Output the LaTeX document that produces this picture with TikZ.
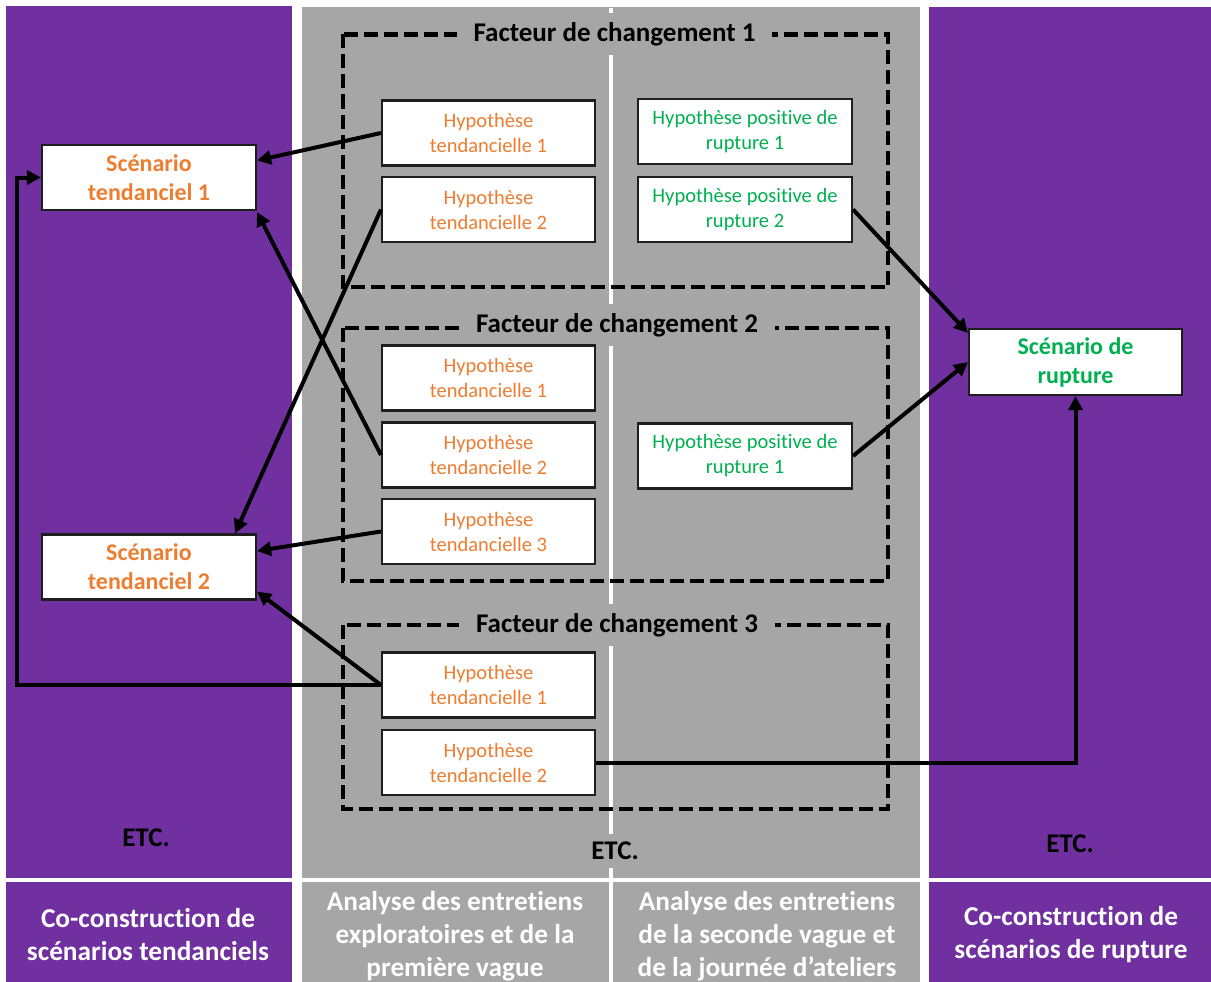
\documentclass[tikz,border=0pt]{standalone}
\usepackage{fontspec}
\setmainfont[Ligatures={NoCommon}]{Carlito}
\usetikzlibrary{arrows.meta,calc}
\definecolor{ppurple}{HTML}{7030A0}
\definecolor{pgray}{HTML}{A6A6A6}
\definecolor{porange}{HTML}{ED7D31}
\definecolor{pgreen}{HTML}{00B050}
\definecolor{pborder}{HTML}{1E1E1E}
\begin{document}
\begin{tikzpicture}[x=1pt,y=-1pt,
  hypbox/.style={draw=pborder, line width=2.1pt, fill=white, minimum width=213pt, minimum height=65pt, inner sep=0pt, align=center, font=\fontsize{20.5}{25}\selectfont},
  orangebox/.style={hypbox, text=porange},
  greenbox/.style={hypbox, text=pgreen},
  scenbox/.style={draw=pborder, line width=2.1pt, fill=white, minimum width=214pt, minimum height=65pt, inner sep=0pt, align=center, font=\fontsize{24}{29}\selectfont\bfseries},
  facttitle/.style={fill=pgray, inner xsep=17pt, inner ysep=9pt, font=\fontsize{27}{32}\selectfont\bfseries, text=black},
  etclabel/.style={font=\fontsize{27}{32}\selectfont\bfseries, text=black},
  bandlabel/.style={align=center, text=white, font=\fontsize{27.3}{33}\selectfont\bfseries},
  dashbox/.style={draw=black, line width=4.5pt, dash pattern=on 14pt off 6pt},
  conn/.style={draw=black, line width=4pt, -{Triangle[length=14pt,width=14pt]}}
]
\fill[white] (0,0) rectangle (1211,982);
\useasboundingbox (0,0) rectangle (1211,982);
% columns
\fill[ppurple] (6,6) rectangle (292,878);
\fill[pgray] (302,7) rectangle (920,878);
\fill[ppurple] (929,7) rectangle (1211,878);
\fill[ppurple] (6,882) rectangle (292,982);
\fill[pgray] (302,882) rectangle (920,982);
\fill[ppurple] (929,882) rectangle (1211,982);
\draw[white, line width=4pt] (611,8) -- (611,982);
% dashed groups
\draw[dashbox] (343,34.5) rectangle (888,287);
\draw[dashbox] (343,328) rectangle (888,581);
\draw[dashbox] (343,625) rectangle (888,809);
\node[facttitle] (f1) at (614.5,34) {Facteur de changement 1};
\node[facttitle] (f2) at (617,325) {Facteur de changement 2};
\node[facttitle] (f3) at (617,625) {Facteur de changement 3};
% ETC labels
\node[etclabel] (etcl) at (146,838) {ETC.};
\node[etclabel, fill=pgray, inner ysep=8pt] (etcm) at (615,851) {ETC.};
\node[etclabel] (etcr) at (1070,844) {ETC.};
% bottom band labels
\node[bandlabel] (bl1) at (148,934.5) {Co-construction de\\scénarios tendanciels};
\node[bandlabel] (bl2) at (455,936) {Analyse des entretiens\\exploratoires et de la\\première vague};
\node[bandlabel] (bl3) at (767,936) {Analyse des entretiens\\de la seconde vague et\\de la journée d’ateliers};
\node[bandlabel] (bl4) at (1071,934.5) {Co-construction de\\scénarios de rupture};
% hypothesis boxes
\node[orangebox] (h11) at (488.5,133) {Hypothèse\\tendancielle 1};
\node[orangebox] (h12) at (488.5,209.5) {Hypothèse\\tendancielle 2};
\node[orangebox] (h21) at (488.5,378) {Hypothèse\\tendancielle 1};
\node[orangebox] (h22) at (488.5,455) {Hypothèse\\tendancielle 2};
\node[orangebox] (h23) at (488.5,531.5) {Hypothèse\\tendancielle 3};
\node[orangebox] (h31) at (488.5,685) {Hypothèse\\tendancielle 1};
\node[orangebox] (h32) at (488.5,762.5) {Hypothèse\\tendancielle 2};
\node[greenbox, minimum width=214pt] (g11) at (745,131.5) {Hypothèse positive de\\rupture 1};
\node[greenbox, minimum width=214pt] (g12) at (745,209.5) {Hypothèse positive de\\rupture 2};
\node[greenbox, minimum width=214pt] (g21) at (745,456) {Hypothèse positive de\\rupture 1};
% scenario boxes
\node[scenbox, text=porange] (st1) at (149,177.5) {Scénario\\tendanciel 1};
\node[scenbox, text=porange] (st2) at (149,567) {Scénario\\tendanciel 2};
\node[scenbox, text=pgreen, minimum width=213pt, minimum height=66pt] (rup) at (1075.5,362) {Scénario de\\rupture};
% connectors
\coordinate (c6) at (17,685);
\draw[conn] (h11.west) -- ([yshift=17pt]st1.east);
\draw[conn] (h12.west) -- ([xshift=-22pt]st2.north east);
\draw[conn] (h22.west) -- ([yshift=-1pt]st1.south east);
\draw[conn] (h23.west) -- ([yshift=16pt]st2.east);
\draw[conn] (h31.west) -- ([yshift=9pt]st2.south east);
\draw[conn] (h31.west) -- (c6) |- (st1.west);
\draw[conn] (h32.east) -| (rup.south);
\draw[conn] (g12.east) -- ([yshift=-5pt]rup.north west);
\draw[conn] (g21.east) -- (rup.west);
\end{tikzpicture}
\end{document}
